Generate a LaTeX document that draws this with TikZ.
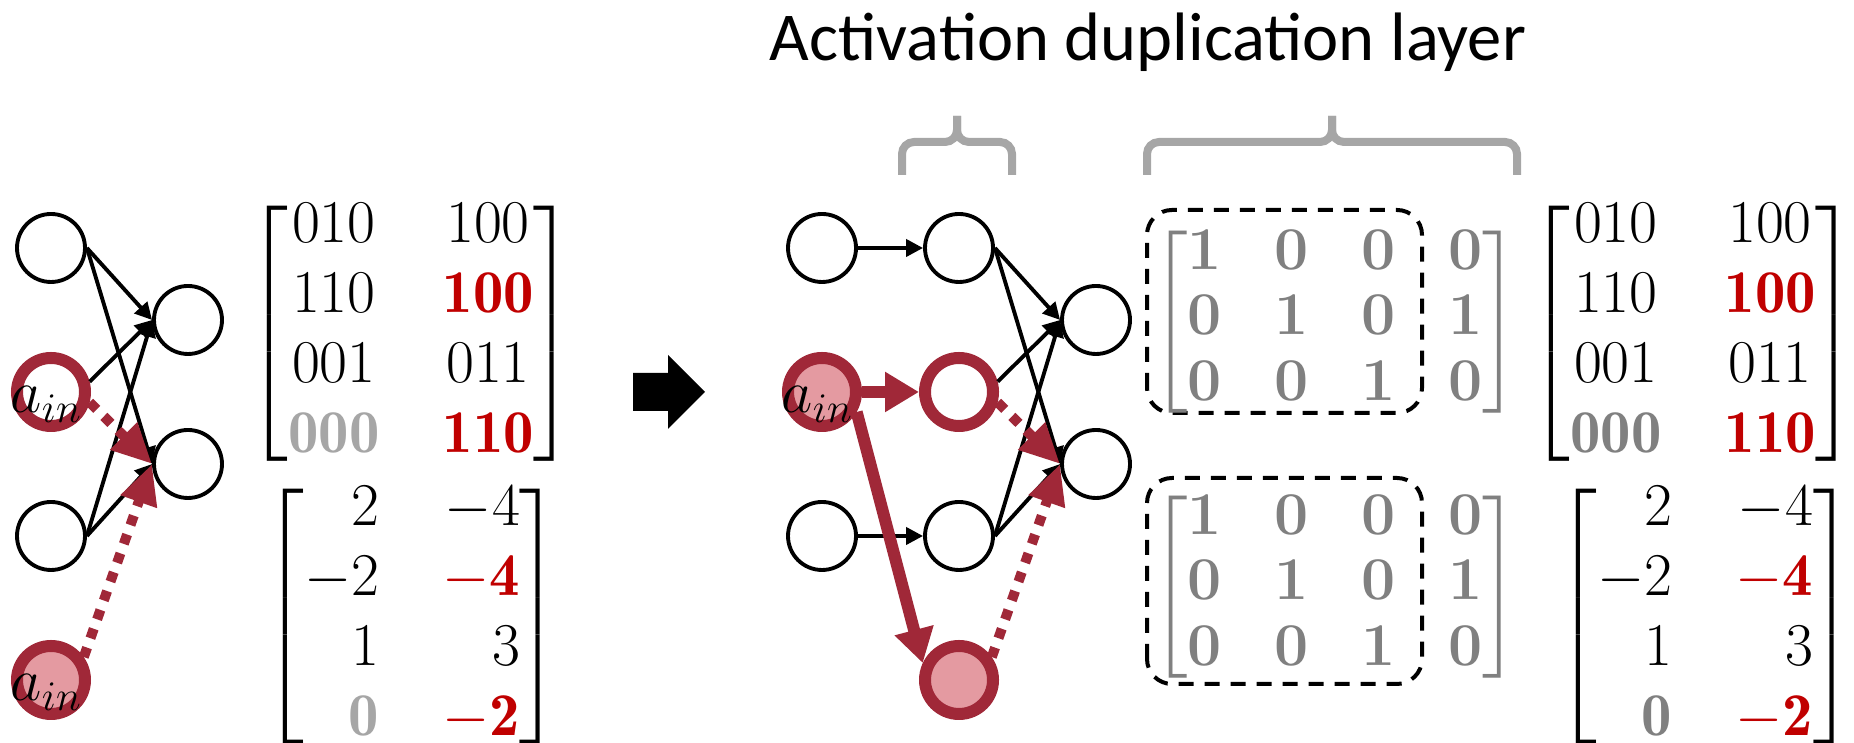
\documentclass[tikz,border=0pt]{standalone}
\usepackage{amsmath,mathtools}
\usepackage{fontspec}
\newfontfamily\titlefont{Carlito}
\usepackage{xcolor}
\usepackage{tikz}
\usetikzlibrary{arrows.meta}
\definecolor{ringred}{RGB}{160,40,56}
\definecolor{pinkfill}{RGB}{228,154,161}
\definecolor{hotred}{RGB}{192,0,0}
\definecolor{zerolight}{RGB}{166,166,166}
\definecolor{zerodark}{RGB}{128,128,128}
\definecolor{bracegray}{RGB}{166,166,166}
\newcommand{\hotnum}[1]{\textcolor{hotred}{#1}}
\newcommand{\matsize}[3]{\fontsize{17.28}{#1}\selectfont
  \setlength{\arraycolsep}{#2}\delimiterfactor=800 \delimitershortfall=#3\relax}
\tikzset{
  neuron/.style={circle,draw,line width=1.1pt,minimum size=0.68cm,inner sep=0pt,fill=white},
  hotring/.style={neuron,draw=ringred,line width=0.12cm},
  hotdot/.style={hotring,fill=pinkfill},
  link/.style={line width=1.1pt,-{Triangle[length=0.17cm,width=0.17cm]}},
  hotlink/.style={color=ringred,line width=0.12cm,-{Triangle[length=0.34cm,width=0.38cm]}},
  dotlink/.style={color=ringred,line width=0.1cm,dash pattern=on 0.1cm off 0.1cm,-{Triangle[length=0.4cm,width=0.36cm]}},
  ainlbl/.style={anchor=base west,inner sep=0pt,font=\fontsize{17.28}{20}\selectfont},
  bigmat/.style={inner sep=0pt,font={\matsize{20}{9pt}{10pt}}},
  dupmat/.style={inner sep=0pt,text=zerodark,font={\matsize{18.5}{7.5pt}{9pt}\boldmath}},
  dupbox/.style={draw,line width=0.04cm,dash pattern=on 0.15cm off 0.11cm,rounded corners=0.25cm},
  brace/.style={draw=bracegray,line width=0.08cm,rounded corners=0.12cm},
}

\begin{document}
\begin{tikzpicture}
    \useasboundingbox (0,0) rectangle (18.54,7.43);

    % original layer
    \node[neuron] (L1) at (0.51,4.95) {};
    \node[hotring] (L2) at (0.51,3.51) {};
    \node[neuron] (L3) at (0.51,2.07) {};
    \node[hotdot] (L4) at (0.51,0.63) {};
    \node[neuron] (R1) at (1.88,4.23) {};
    \node[neuron] (R2) at (1.88,2.79) {};
    \draw[link] (L1.east) -- (R1.west);
    \draw[link] (L1.east) -- (R2.west);
    \draw[link] (L2.15) -- (R1.west);
    \draw[link] (L3.east) -- (R1.west);
    \draw[link] (L3.east) -- (R2.west);
    \draw[dotlink] (L2.-15) -- (R2.west);
    \draw[dotlink] (L4.35) -- (R2.west);
    \node[ainlbl] (ain1) at ([xshift=-0.41cm,yshift=-0.21cm]L2.center) {$a_{in}$};
    \node[ainlbl] (ain2) at ([xshift=-0.41cm,yshift=-0.21cm]L4.center) {$a_{in}$};

    \node[bigmat] (W1) at (4.11,4.095) {$\begin{bmatrix}
      010 & 100\\ 110 & \hotnum{\mathbf{100}}\\ 001 & 011\\
      \textcolor{zerolight}{\mathbf{000}} & \hotnum{\mathbf{110}}
    \end{bmatrix}$};
    \node[bigmat] (V1) at (4.12,1.265) {$\begin{bmatrix*}[r]
      2 & -4\\ -2 & \hotnum{-\mathbf{4}}\\ 1 & 3\\
      \textcolor{zerolight}{\mathbf{0}} & \hotnum{-\mathbf{2}}
    \end{bmatrix*}$};

    \fill (6.33,3.32) -- (6.68,3.32) -- (6.68,3.14) -- (7.05,3.51)
      -- (6.68,3.88) -- (6.68,3.70) -- (6.33,3.70) -- cycle;

    % with duplication layer
    \node[font=\titlefont\fontsize{19.5}{22}\selectfont,anchor=base] (title)
      at (11.48,6.82) {Activation duplication layer};
    \draw[brace] (9.02,5.68) -- (9.02,6.01) -- (9.57,6.01) -- (9.57,6.27);
    \draw[brace] (10.12,5.68) -- (10.12,6.01) -- (9.57,6.01) -- (9.57,6.27);
    \draw[brace] (11.47,5.68) -- (11.47,6.01) -- (13.32,6.01) -- (13.32,6.27);
    \draw[brace] (15.17,5.68) -- (15.17,6.01) -- (13.32,6.01) -- (13.32,6.27);

    \node[neuron] (A1) at (8.22,4.95) {};
    \node[hotdot] (A2) at (8.22,3.51) {};
    \node[neuron] (A3) at (8.22,2.07) {};
    \node[neuron] (B1) at (9.59,4.95) {};
    \node[hotring] (B2) at (9.59,3.51) {};
    \node[neuron] (B3) at (9.59,2.07) {};
    \node[hotdot] (B4) at (9.59,0.63) {};
    \node[neuron] (C1) at (10.96,4.23) {};
    \node[neuron] (C2) at (10.96,2.79) {};
    \draw[link] (A1) -- (B1);
    \draw[link] (A3) -- (B3);
    \draw[hotlink] (A2) -- (B2);
    \draw[hotlink] (A2.-30) -- (B4.155);
    \draw[link] (B1.east) -- (C1.west);
    \draw[link] (B1.east) -- (C2.west);
    \draw[link] (B2.15) -- (C1.west);
    \draw[link] (B3.east) -- (C1.west);
    \draw[link] (B3.east) -- (C2.west);
    \draw[dotlink] (B2.-15) -- (C2.west);
    \draw[dotlink] (B4.35) -- (C2.west);
    \node[ainlbl] (ain3) at ([xshift=-0.41cm,yshift=-0.21cm]A2.center) {$a_{in}$};

    \draw[dupbox] (11.47,3.30) rectangle (14.22,5.33);
    \draw[dupbox] (11.47,0.59) rectangle (14.22,2.65);
    \node[dupmat] (D1) at (13.35,4.21) {$\begin{bmatrix}
      1 & 0 & 0 & 0\\ 0 & 1 & 0 & 1\\ 0 & 0 & 1 & 0
    \end{bmatrix}$};
    \node[dupmat] (D2) at (13.35,1.56) {$\begin{bmatrix}
      1 & 0 & 0 & 0\\ 0 & 1 & 0 & 1\\ 0 & 0 & 1 & 0
    \end{bmatrix}$};

    \node[bigmat] (W2) at (16.93,4.095) {$\begin{bmatrix}
      010 & 100\\ 110 & \hotnum{\mathbf{100}}\\ 001 & 011\\
      \textcolor{zerodark}{\mathbf{000}} & \hotnum{\mathbf{110}}
    \end{bmatrix}$};
    \node[bigmat] (V2) at (17.05,1.265) {$\begin{bmatrix*}[r]
      2 & -4\\ -2 & \hotnum{-\mathbf{4}}\\ 1 & 3\\
      \textcolor{zerodark}{\mathbf{0}} & \hotnum{-\mathbf{2}}
    \end{bmatrix*}$};
\end{tikzpicture}
\end{document}
